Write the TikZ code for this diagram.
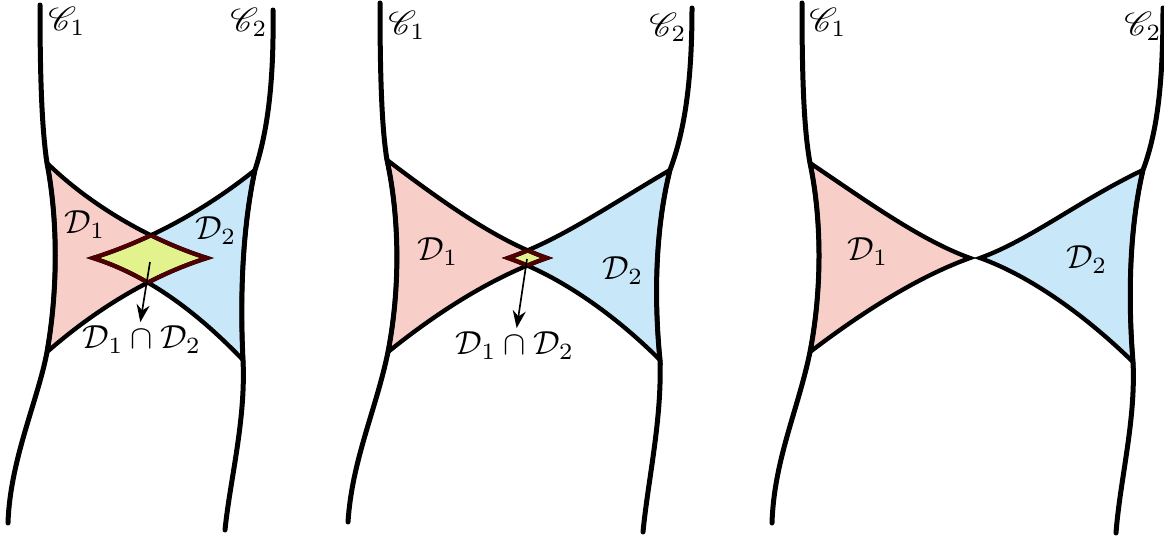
\documentclass[tikz,border=0pt]{standalone}
\usepackage{amsmath,amssymb}
\usepackage{mathrsfs}
\usetikzlibrary{arrows.meta}
\definecolor{regpink}{RGB}{248,206,200}
\definecolor{regblue}{RGB}{200,232,250}
\definecolor{regyellow}{RGB}{226,242,140}
\definecolor{lensred}{RGB}{80,0,0}
% 領域 D1, D2 (左・中・右)
\newcommand{\DoneL}{(47,163) .. controls (58,220) and (58,290) .. (47,352) .. controls (95,310) and (150,276) .. (207,258) .. controls (150,240) and (90,205) .. (47,163) -- cycle}
\newcommand{\DtwoL}{(255,170) .. controls (242,230) and (240,300) .. (243,360) .. controls (200,315) and (150,276) .. (93,258) .. controls (150,240) and (205,210) .. (255,170) -- cycle}
\newcommand{\DoneM}{(387,160) .. controls (400,220) and (400,290) .. (388,352) .. controls (440,310) and (495,276) .. (547,258) .. controls (495,240) and (440,200) .. (387,160) -- cycle}
\newcommand{\DtwoM}{(670,170) .. controls (655,230) and (654,300) .. (660,360) .. controls (615,315) and (560,276) .. (508,258) .. controls (560,240) and (610,205) .. (670,170) -- cycle}
\newcommand{\DoneR}{(810,163) .. controls (822,220) and (822,290) .. (810,352) .. controls (865,310) and (920,276) .. (970,258) .. controls (920,240) and (865,200) .. (810,163) -- cycle}
\newcommand{\DtwoR}{(1143,170) .. controls (1129,230) and (1128,300) .. (1133,362) .. controls (1085,315) and (1030,276) .. (980,258) .. controls (1030,240) and (1080,200) .. (1143,170) -- cycle}
\begin{document}
\begin{tikzpicture}[x=0.3pt, y=-0.3pt, >=Stealth,
  curve/.style={line width=1.5pt, line cap=round},
  edge/.style={line width=1.3pt, line join=miter},
  lens/.style={line width=1.2pt, draw=lensred},
  lbl/.style={font=\normalsize, inner sep=1pt}]
  \useasboundingbox (0,0) rectangle (1164,537);
  % 塗り
  \fill[regpink] \DoneL;  \fill[regblue] \DtwoL;
  \fill[regpink] \DoneM;  \fill[regblue] \DtwoM;
  \fill[regpink] \DoneR;  \fill[regblue] \DtwoR;
  % 共通部分 D1 ∩ D2
  \begin{scope} \clip \DoneL; \fill[regyellow] \DtwoL; \end{scope}
  \begin{scope} \clip \DoneM; \fill[regyellow] \DtwoM; \end{scope}
  % 境界
  \draw[edge] \DoneL; \draw[edge] \DtwoL;
  \draw[edge] \DoneM; \draw[edge] \DtwoM;
  \draw[edge] \DoneR; \draw[edge] \DtwoR;
  \begin{scope} \clip \DtwoL; \draw[lens] \DoneL; \end{scope}
  \begin{scope} \clip \DoneL; \draw[lens] \DtwoL; \end{scope}
  \begin{scope} \clip \DtwoM; \draw[lens] \DoneM; \end{scope}
  \begin{scope} \clip \DoneM; \draw[lens] \DtwoM; \end{scope}
  % 曲線 C1, C2
  \draw[curve] (40,5) .. controls (40,80) and (42,130) .. (47,163)
    .. controls (58,220) and (58,290) .. (47,352)
    .. controls (38,400) and (10,460) .. (8,523);
  \draw[curve] (273,10) .. controls (274,80) and (268,130) .. (255,170)
    .. controls (242,230) and (240,300) .. (243,360)
    .. controls (246,420) and (230,480) .. (225,530);
  \draw[curve] (380,3) .. controls (380,80) and (382,130) .. (387,160)
    .. controls (400,220) and (400,290) .. (388,352)
    .. controls (376,410) and (352,460) .. (348,522);
  \draw[curve] (692,8) .. controls (692,80) and (685,130) .. (670,170)
    .. controls (655,230) and (654,300) .. (660,360)
    .. controls (662,420) and (648,480) .. (643,532);
  \draw[curve] (802,3) .. controls (802,80) and (804,130) .. (810,163)
    .. controls (822,220) and (822,290) .. (810,352)
    .. controls (798,410) and (774,460) .. (772,523);
  \draw[curve] (1163,8) .. controls (1163,80) and (1158,130) .. (1143,170)
    .. controls (1129,230) and (1128,300) .. (1133,362)
    .. controls (1136,420) and (1120,480) .. (1116,533);
  % ラベル
  \node[lbl] (cOneL) at (67,21) {$\mathscr{C}_1$};
  \node[lbl] (cTwoL) at (249,22) {$\mathscr{C}_2$};
  \node[lbl] (dOneL) at (85,225) {$\mathcal{D}_1$};
  \node[lbl] (dTwoL) at (216,231) {$\mathcal{D}_2$};
  \node[lbl] (cOneM) at (407,25) {$\mathscr{C}_1$};
  \node[lbl] (cTwoM) at (668,27) {$\mathscr{C}_2$};
  \node[lbl] (dOneM) at (438,252) {$\mathcal{D}_1$};
  \node[lbl] (dTwoM) at (623,271) {$\mathcal{D}_2$};
  \node[lbl] (cOneR) at (828,22) {$\mathscr{C}_1$};
  \node[lbl] (cTwoR) at (1143,26) {$\mathscr{C}_2$};
  \node[lbl] (dOneR) at (868,252) {$\mathcal{D}_1$};
  \node[lbl] (dTwoR) at (1087,260) {$\mathcal{D}_2$};
  % 共通部分を指す矢印
  \coordinate (lensL) at (150,262);
  \coordinate (lensM) at (527,259);
  \node[lbl] (capL) at (142,340) {$\mathcal{D}_1 \cap \mathcal{D}_2$};
  \node[lbl] (capM) at (515,346) {$\mathcal{D}_1 \cap \mathcal{D}_2$};
  \draw[->, line width=0.5pt] (lensL) -- ([xshift=-0.5pt]capL.north);
  \draw[->, line width=0.5pt] (lensM) -- ([xshift=0.5pt]capM.north);
\end{tikzpicture}
\end{document}
